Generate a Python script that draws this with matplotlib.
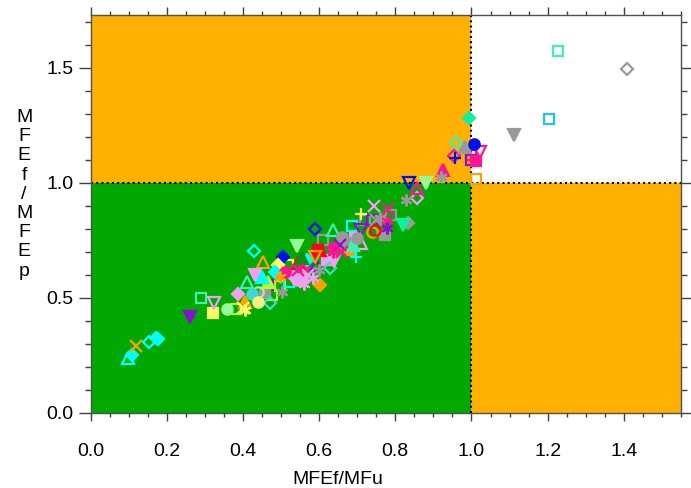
import numpy as np
import matplotlib.pyplot as plt
from matplotlib.patches import Rectangle
from matplotlib.ticker import MultipleLocator, FormatStrFormatter

plt.rcParams['font.family'] = ['Liberation Sans', 'DejaVu Sans']

# ---------------------------------------------------------
# colours used for the symbols
# ---------------------------------------------------------
pal = {
    'cyan': '#00FFFF', 'aqua': '#40F0B0', 'spring': '#10F0A0', 'sky': '#20C0F8',
    'gray': '#999999', 'blue': '#0010F0', 'pink': '#FF1493', 'purple': '#8A10D0',
    'plum': '#F0A0F0', 'orange': '#FFA000', 'yellow': '#FFFF66', 'palegreen': '#98F898',
    'chart': '#B0FF30', 'red': '#FF0020', 'turq': '#40D8D0', 'dkgreen': '#109010',
    'khaki': '#F0F080',
}

# ---------------------------------------------------------
# DATA : MFEf/MFu (x) and MFEf/MFEp (y), grouped by symbol
# ---------------------------------------------------------

# open squares
sq_o_x = [1.228, 1.204, 1.000, 0.998, 1.013, 0.720, 0.738, 0.685, 0.611, 0.519, 0.290, 0.383, 0.475, 0.497, 0.520, 0.790]
sq_o_y = [1.572, 1.277, 1.122, 1.100, 1.016, 0.839, 0.839, 0.810, 0.752, 0.643, 0.501, 0.451, 0.512, 0.549, 0.570, 0.860]
sq_o_c = ['aqua', 'sky', 'pink', 'purple', 'orange', 'gray', 'purple', 'cyan', 'gray', 'yellow', 'aqua', 'chart', 'chart', 'chart', 'cyan', 'gray']

# filled squares
sq_f_x = [1.013, 0.773, 0.694, 0.681, 0.668, 0.466, 0.322, 0.458, 0.620, 0.598, 0.560]
sq_f_y = [1.093, 0.774, 0.759, 0.708, 0.737, 0.556, 0.433, 0.521, 0.665, 0.708, 0.640]
sq_f_c = ['pink', 'gray', 'plum', 'orange', 'gray', 'purple', 'yellow', 'gray', 'plum', 'red', 'pink']

# open diamonds
di_o_x = [1.407, 0.959, 0.954, 0.856, 0.589, 0.628, 0.430, 0.471, 0.154, 0.178]
di_o_y = [1.496, 1.173, 1.118, 0.935, 0.798, 0.629, 0.704, 0.476, 0.309, 0.320]
di_o_c = ['gray', 'aqua', 'pink', 'plum', 'blue', 'turq', 'cyan', 'turq', 'cyan', 'cyan']

# filled diamonds
di_f_x = [0.994, 0.834, 0.506, 0.602, 0.493, 0.484, 0.388, 0.173, 0.109, 0.567, 0.530]
di_f_y = [1.282, 0.825, 0.679, 0.556, 0.643, 0.614, 0.515, 0.324, 0.251, 0.665, 0.600]
di_f_c = ['spring', 'gray', 'blue', 'orange', 'yellow', 'cyan', 'plum', 'cyan', 'cyan', 'cyan', 'plum']

# open upward triangles
tu_o_x = [0.857, 0.710, 0.637, 0.593, 0.545, 0.452, 0.410, 0.099]
tu_o_y = [0.977, 0.740, 0.795, 0.643, 0.650, 0.657, 0.570, 0.237]
tu_o_c = ['pink', 'plum', 'aqua', 'purple', 'red', 'orange', 'aqua', 'cyan']

# filled upward triangles
tu_f_x = [0.983, 0.925, 0.602, 0.554, 0.405, 0.466, 0.449, 0.690]
tu_f_y = [1.154, 1.057, 0.708, 0.672, 0.483, 0.570, 0.592, 0.730]
tu_f_c = ['gray', 'pink', 'red', 'dkgreen', 'orange', 'chart', 'cyan', 'aqua']

# open downward triangles
td_o_x = [1.022, 0.837, 0.711, 0.589, 0.325]
td_o_y = [1.132, 0.999, 0.795, 0.679, 0.476]
td_o_c = ['pink', 'blue', 'purple', 'orange', 'plum']

# filled downward triangles
td_f_x = [1.112, 0.880, 0.821, 0.541, 0.432, 0.261, 0.640]
td_f_y = [1.209, 0.999, 0.817, 0.727, 0.600, 0.415, 0.660]
td_f_c = ['gray', 'palegreen', 'spring', 'palegreen', 'plum', 'purple', 'plum']

# open circles
ci_o_x = [0.738, 0.746, 0.440]
ci_o_y = [0.788, 0.795, 0.527]
ci_o_c = ['orange', 'red', 'palegreen']

# filled circles
ci_f_x = [1.006, 0.659, 0.554, 0.510, 0.423, 0.359, 0.440, 0.541, 0.637, 0.700]
ci_f_y = [1.168, 0.766, 0.585, 0.614, 0.515, 0.451, 0.483, 0.578, 0.716, 0.760]
ci_f_c = ['blue', 'gray', 'plum', 'pink', 'turq', 'palegreen', 'khaki', 'plum', 'pink', 'gray']

# plus signs
pl_x = [0.956, 0.711, 0.698]
pl_y = [1.107, 0.865, 0.679]
pl_c = ['blue', 'yellow', 'cyan']

# crosses
xx_x = [0.745, 0.780, 0.655, 0.401, 0.118, 0.570, 0.545, 0.660, 0.750]
xx_y = [0.897, 0.885, 0.730, 0.454, 0.292, 0.600, 0.620, 0.700, 0.840]
xx_c = ['plum', 'pink', 'purple', 'yellow', 'orange', 'plum', 'pink', 'pink', 'gray']

# asterisks
as_x = [0.921, 0.827, 0.760, 0.777, 0.777, 0.637, 0.497, 0.405, 0.502, 0.585, 0.560, 0.600]
as_y = [1.027, 0.926, 0.846, 0.832, 0.803, 0.701, 0.592, 0.447, 0.527, 0.585, 0.560, 0.620]
as_c = ['gray', 'gray', 'gray', 'pink', 'purple', 'pink', 'orange', 'yellow', 'gray', 'plum', 'plum', 'gray']

threshold = 1.0
x_max = 1.55
y_max = 1.73

# ---------------------------------------------------------
# FIGURE
# ---------------------------------------------------------
fig = plt.figure(figsize=(6.91, 4.88), dpi=100)
ax = fig.add_axes([0.1311, 0.1543, 0.8544, 0.8150])

# quadrant shading
ax.add_patch(Rectangle((0, 0), threshold, threshold, color='#00A800', lw=0, zorder=0))
ax.add_patch(Rectangle((0, threshold), threshold, y_max - threshold, color='#FFB000', lw=0, zorder=0))
ax.add_patch(Rectangle((threshold, 0), x_max - threshold, threshold, color='#FFB000', lw=0, zorder=0))

ax.axvline(threshold, color='k', ls=(0, (1, 1.5)), lw=1.5, zorder=1)
ax.axhline(threshold, color='k', ls=(0, (1, 1.5)), lw=1.5, zorder=1)

asterisk = (6, 2, 0)

groups = [
    (sq_o_x, sq_o_y, sq_o_c, 's', False, 7.0),
    (sq_f_x, sq_f_y, sq_f_c, 's', True, 7.0),
    (di_o_x, di_o_y, di_o_c, 'D', False, 6.5),
    (di_f_x, di_f_y, di_f_c, 'D', True, 6.5),
    (tu_o_x, tu_o_y, tu_o_c, '^', False, 8.0),
    (tu_f_x, tu_f_y, tu_f_c, '^', True, 8.0),
    (td_o_x, td_o_y, td_o_c, 'v', False, 8.0),
    (td_f_x, td_f_y, td_f_c, 'v', True, 8.0),
    (ci_o_x, ci_o_y, ci_o_c, 'o', False, 7.5),
    (ci_f_x, ci_f_y, ci_f_c, 'o', True, 7.5),
    (pl_x, pl_y, pl_c, '+', True, 8.5),
    (xx_x, xx_y, xx_c, 'x', True, 8.0),
    (as_x, as_y, as_c, asterisk, True, 8.5),
]

for gx, gy, gc, mk, fill, ms in groups:
    for x, y, c in zip(gx, gy, gc):
        col = pal[c]
        ax.plot(x, y, marker=mk, ms=ms, mew=1.6,
                mec=col, mfc=col if fill else 'none',
                ls='none', zorder=2)

ax.set_xlim(0, x_max)
ax.set_ylim(0, y_max)

ax.xaxis.set_major_locator(MultipleLocator(0.2))
ax.xaxis.set_minor_locator(MultipleLocator(0.05))
ax.yaxis.set_major_locator(MultipleLocator(0.5))
ax.yaxis.set_minor_locator(MultipleLocator(0.1))
ax.xaxis.set_major_formatter(FormatStrFormatter('%.1f'))
ax.yaxis.set_major_formatter(FormatStrFormatter('%.1f'))

ax.tick_params(which='both', direction='out', top=True, right=True,
               labelsize=14, color='#404040', width=1)
ax.tick_params(axis='x', which='major', length=6, pad=16)
ax.tick_params(axis='x', which='minor', length=3)
ax.tick_params(axis='y', which='major', length=8.5, pad=4)
ax.tick_params(axis='y', which='minor', length=4)

for sp in ax.spines.values():
    sp.set_color('#505050')
    sp.set_linewidth(1)

fig.text(338 / 691, 0.0, 'MFEf/MFu', ha='center', va='bottom', fontsize=14)
fig.text(24 / 691, 0.602, '\n'.join('MFEf/MFEp'), ha='center', va='center',
         fontsize=14, linespacing=1.17)

fig.savefig('out.png', dpi=100)
